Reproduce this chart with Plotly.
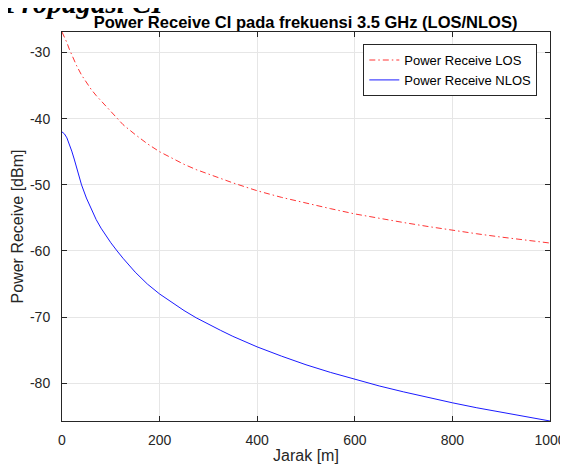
import plotly.graph_objects as go

# Distance [m]
jarak = [0, 5, 10, 15, 20, 25, 30, 40, 50, 60, 70, 80, 90, 100, 113, 125, 150, 175,
         200, 225, 250, 275, 300, 325, 350, 375, 400, 450, 500, 550, 600, 650, 700,
         750, 800, 850, 900, 950, 1000]

# Power Receive LOS [dBm]
pr_los = [-26.9, -27.6, -28.5, -29.5, -30.4, -31.2, -32.0, -33.4, -34.6, -35.6,
          -36.5, -37.3, -38.2, -39.0, -40.0, -40.9, -42.4, -43.8, -45.0, -46.0,
          -46.9, -47.7, -48.4, -49.1, -49.7, -50.3, -50.9, -51.9, -52.8, -53.6,
          -54.4, -55.1, -55.7, -56.3, -56.9, -57.4, -57.9, -58.4, -58.8]

# Power Receive NLOS [dBm]
pr_nlos = [-42.0, -42.3, -42.9, -43.8, -44.9, -46.1, -47.4, -50.0, -52.0, -53.75,
           -55.25, -56.55, -57.7, -58.75, -60.0, -61.1, -63.2, -65.0, -66.5, -67.8,
           -69.0, -70.1, -71.1, -72.0, -72.9, -73.7, -74.5, -75.9, -77.2, -78.35,
           -79.4, -80.4, -81.3, -82.15, -82.95, -83.7, -84.4, -85.05, -85.7]

x_ticks = [0, 200, 400, 600, 800, 1000]
x_labels = ["0", "200", "400", "600", "800", "1000"]
y_ticks = [-80, -70, -60, -50, -40, -30]
y_labels = ["-80", "-70", "-60", "-50", "-40", "-30"]

TXT = "#262626"
FONT = "Liberation Sans, Arial, sans-serif"

fig = go.Figure()
fig.add_trace(go.Scatter(
    x=jarak, y=pr_los, mode="lines", name="Power Receive LOS",
    line=dict(color="#ff0000", width=0.8, dash="6px,3px,1.5px,3px"),
))
fig.add_trace(go.Scatter(
    x=jarak, y=pr_nlos, mode="lines", name="Power Receive NLOS",
    line=dict(color="#0000ff", width=0.9),
))

axis_common = dict(
    showline=True, linecolor=TXT, linewidth=1, mirror="allticks",
    ticks="inside", ticklen=5, tickcolor=TXT, tickwidth=1,
    showgrid=True, gridcolor="#e6e6e6", gridwidth=1, zeroline=False,
    tickfont=dict(family=FONT, size=14, color=TXT),
    automargin=False,
)

H = 456
fig.update_layout(
    width=560, height=H,
    margin=dict(l=53.6, r=18.4, t=24, b=H - 413, autoexpand=False),
    paper_bgcolor="white", plot_bgcolor="white",
    font=dict(family=FONT, color=TXT),
    title=dict(
        text="<b>Power Receive CI pada frekuensi 3.5 GHz (LOS/NLOS)</b>",
        font=dict(family=FONT, size=16.5, color="#000000"),
        x=(305.6 - 8) / 560, xanchor="center", xref="container",
        y=1 - 14 / H, yanchor="middle", yref="container",
    ),
    xaxis=dict(range=[0, 1000], tickvals=x_ticks, ticktext=x_labels, ticklabelstandoff=6,
               title=dict(text="Jarak [m]", font=dict(family=FONT, size=16, color=TXT), standoff=22),
               **axis_common),
    yaxis=dict(range=[-85.7, -26.9], tickvals=y_ticks, ticktext=y_labels, ticklabelstandoff=8,
               title=dict(text="Power Receive [dBm]", font=dict(family=FONT, size=16, color=TXT), standoff=2),
               **axis_common),
    legend=dict(
        x=0.974, y=0.969, xanchor="right", yanchor="top",
        bgcolor="white", bordercolor=TXT, borderwidth=1,
        font=dict(family=FONT, size=13, color="#000000"),
        tracegroupgap=0, itemwidth=30,
    ),
    showlegend=True,
    annotations=[dict(
        text="<b><i>Propagasi CI</i></b>", xref="paper", yref="paper",
        x=-0.125, y=1.074, xanchor="left", yanchor="middle", showarrow=False,
        font=dict(family="Liberation Serif, serif", size=29, color="#000000"),
    )],
)

fig.write_html("out.html")
